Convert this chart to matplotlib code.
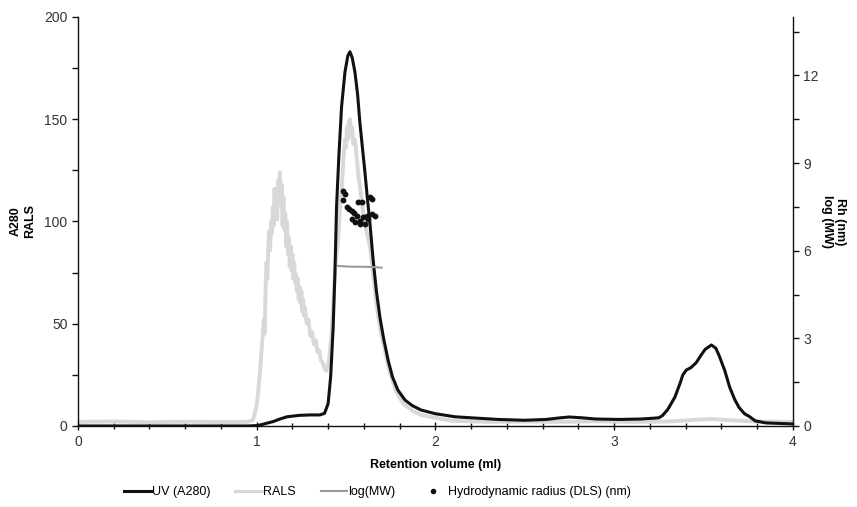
import matplotlib
matplotlib.use("Agg")
import matplotlib.pyplot as plt
from matplotlib.ticker import MultipleLocator
from matplotlib.lines import Line2D

plt.rcParams['font.family'] = ['Liberation Sans', 'DejaVu Sans']

# UV (A280)
uv_x = [0.0, 0.5, 0.95, 1.0, 1.02, 1.05, 1.09, 1.13, 1.17, 1.24, 1.30, 1.354, 1.38, 1.40, 1.414,
        1.428, 1.438, 1.447, 1.46, 1.475, 1.494, 1.51, 1.522, 1.535, 1.55, 1.565, 1.578, 1.592,
        1.606, 1.62, 1.634, 1.652, 1.67, 1.69, 1.71, 1.736, 1.76, 1.79, 1.83, 1.87, 1.92, 2.0,
        2.11, 2.2, 2.35, 2.5, 2.62, 2.7, 2.75, 2.82, 2.9, 3.03, 3.15, 3.22, 3.25, 3.27, 3.30,
        3.34, 3.37, 3.385, 3.405, 3.43, 3.46, 3.49, 3.51, 3.545, 3.57, 3.59, 3.62, 3.647, 3.675,
        3.70, 3.73, 3.76, 3.79, 3.85, 4.0]
uv_y = [0.0, 0.0, 0.0, 0.2, 0.5, 1.2, 2.1, 3.4, 4.5, 5.2, 5.4, 5.4, 6.2, 11, 24,
        48, 75, 107, 132, 156, 173, 181, 183, 180, 173, 162, 148, 136,
        124, 111, 99, 81, 66, 53, 43, 32, 24, 17.6, 12.7, 10, 7.8, 6,
        4.5, 4.0, 3.2, 2.8, 3.2, 4.0, 4.4, 4.0, 3.4, 3.2, 3.4, 3.8, 4.0, 5.0, 8,
        14, 21, 25, 27.4, 28.5, 31, 35, 37.5, 39.6, 38, 34, 27, 19, 13,
        9, 6, 4.5, 2.5, 1.5, 1.0]

# RALS
rals_x = [0.0, 0.2, 0.4, 0.6, 0.8, 0.95, 0.98, 1.0, 1.01, 1.02, 1.03, 1.04, 1.045, 1.05, 1.055,
          1.06, 1.065, 1.07, 1.075, 1.08, 1.085, 1.09, 1.095, 1.10, 1.105, 1.11, 1.115, 1.12,
          1.125, 1.13, 1.135, 1.14, 1.145, 1.15, 1.155, 1.16, 1.165, 1.17, 1.175, 1.18, 1.185,
          1.19, 1.195, 1.20, 1.205, 1.21, 1.215, 1.22, 1.225, 1.23, 1.235, 1.24, 1.245, 1.25,
          1.255, 1.26, 1.265, 1.27, 1.28, 1.29, 1.30, 1.31, 1.32, 1.33, 1.34, 1.35, 1.36, 1.37,
          1.38, 1.39, 1.40, 1.41, 1.42, 1.43, 1.44, 1.456, 1.466, 1.475, 1.485, 1.494, 1.50,
          1.505, 1.51, 1.515, 1.522, 1.53, 1.535, 1.54, 1.55, 1.559, 1.57, 1.58, 1.587, 1.60,
          1.615, 1.634, 1.65, 1.67, 1.69, 1.71, 1.727, 1.75, 1.78, 1.82, 1.87, 1.92, 1.97, 2.05,
          2.1, 2.3, 2.5, 2.7, 2.9, 3.1, 3.3, 3.45, 3.55, 3.65, 3.8, 4.0]
rals_y = [2.0, 2.2, 1.8, 2.1, 1.9, 2.0, 3, 10, 18, 28, 40, 52, 45, 68, 80,
          72, 88, 95, 86, 100, 94, 107, 98, 116, 104, 112, 101, 120,
          108, 124, 110, 118, 98, 112, 96, 104, 88, 100, 84, 92, 78,
          88, 76, 84, 72, 80, 70, 74, 66, 72, 62, 68, 60, 66,
          56, 62, 54, 58, 50, 52, 44, 46, 40, 42, 36, 37, 32, 31,
          28, 27, 30, 36, 46, 62, 78, 91, 106, 115, 130, 140, 136,
          146, 140, 148, 150, 142, 146, 138, 140, 132, 122, 116, 110, 102,
          95, 88, 76, 60, 48, 40, 33, 25, 17, 11, 7.5, 5.5, 4.5, 3.2,
          2.5, 2.0, 2.2, 2.0, 2.3, 2.0, 2.2, 3.0, 3.4, 2.8, 2.2, 2.0]

# log(MW) (right axis)
mw_x = [1.456, 1.50, 1.55, 1.60, 1.65, 1.70]
mw_y = [5.48, 5.46, 5.45, 5.45, 5.44, 5.42]

# Hydrodynamic radius (DLS) (right axis)
dls_x = [1.484, 1.494, 1.481, 1.503, 1.518, 1.531, 1.568, 1.587, 1.634, 1.643, 1.546,
         1.559, 1.531, 1.550, 1.578, 1.596, 1.615, 1.624, 1.643, 1.662, 1.606, 1.578]
dls_y = [8.06, 7.94, 7.75, 7.49, 7.43, 7.37, 7.66, 7.66, 7.83, 7.77, 7.28,
         7.20, 7.08, 6.97, 7.03, 7.14, 7.20, 7.08, 7.26, 7.20, 6.91, 6.91]

fig = plt.figure(figsize=(8.57, 5.07), dpi=100)
ax = fig.add_axes([0.091, 0.1598, 0.834, 0.8067])
ax2 = ax.twinx()

rals_color = '#d8d8d8'
ax.plot(rals_x, rals_y, color=rals_color, lw=2.8, zorder=2)
ax.plot(uv_x, uv_y, color='#111111', lw=2.2, zorder=3)
ax2.plot(mw_x, mw_y, color='#9a9a9a', lw=1.5, zorder=4)
ax2.plot(dls_x, dls_y, linestyle='none', marker='o', ms=3.2, color='#111111', zorder=5)

ax.set_xlim(0, 4)
ax.set_ylim(0, 200)
ax2.set_ylim(0, 14)
ax.xaxis.set_major_locator(MultipleLocator(1))
ax.xaxis.set_minor_locator(MultipleLocator(0.2))
ax.yaxis.set_major_locator(MultipleLocator(50))
ax.yaxis.set_minor_locator(MultipleLocator(25))
ax2.yaxis.set_major_locator(MultipleLocator(3))
ax2.yaxis.set_minor_locator(MultipleLocator(1.5))

for a in (ax, ax2):
    a.spines['top'].set_visible(False)
    for s in a.spines.values():
        s.set_linewidth(1.0)
        s.set_color('#111111')
ax.spines['right'].set_visible(False)
ax2.spines['left'].set_visible(False)
ax2.spines['bottom'].set_visible(False)

ax.tick_params(axis='x', which='major', direction='inout', length=6, width=1, labelsize=10, colors='#111111', labelcolor='#333333')
ax.tick_params(axis='x', which='minor', direction='inout', length=5, width=1, colors='#111111')
ax.tick_params(axis='y', which='major', direction='out', length=4, width=1, labelsize=10, colors='#111111', labelcolor='#333333')
ax.tick_params(axis='y', which='minor', direction='out', length=4, width=1, colors='#111111')
ax2.tick_params(axis='y', which='major', direction='out', length=4, width=1, labelsize=10, colors='#111111', labelcolor='#333333')
ax2.tick_params(axis='y', which='minor', direction='out', length=4, width=1, colors='#111111')

ax.set_xlabel('Retention volume (ml)', fontsize=9, fontweight='bold', labelpad=7)
ax.set_ylabel('A280\nRALS', fontsize=9, fontweight='bold', labelpad=6)
ax2.set_ylabel('Rh (nm)\nlog (MW)', fontsize=9, fontweight='bold', rotation=270, labelpad=20)

handles = [Line2D([], [], color='#111111', lw=2.2),
           Line2D([], [], color=rals_color, lw=2.2),
           Line2D([], [], color='#9a9a9a', lw=1.5),
           Line2D([], [], linestyle='none', marker='o', ms=3, color='#111111')]
labels = ['UV (A280)', 'RALS', 'log(MW)', 'Hydrodynamic radius (DLS) (nm)']
fig.legend(handles, labels, loc='center', bbox_to_anchor=(0.4405, 0.029), ncol=4,
           frameon=False, fontsize=9, handlelength=2.1, handletextpad=0.1, columnspacing=2.0)

fig.savefig('out.png', dpi=100)
